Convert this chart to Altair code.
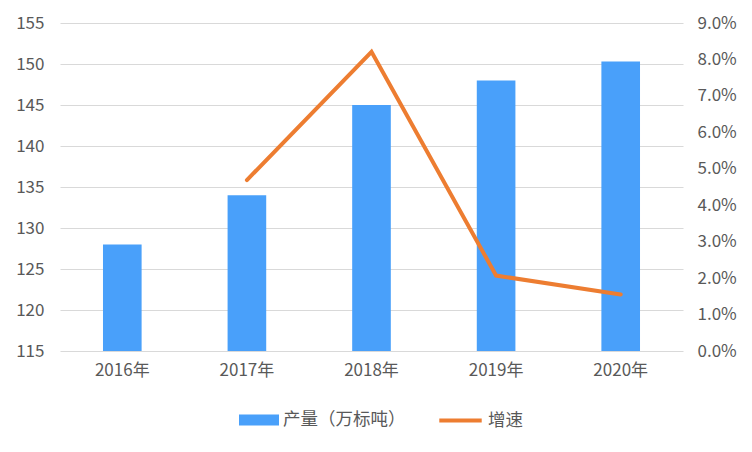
import altair as alt
import pandas as pd

years = ["2016年", "2017年", "2018年", "2019年", "2020年"]
output = [128, 134, 145, 148, 150.3]
growth = [None, 0.0469, 0.0821, 0.0207, 0.0155]

bar_name = "产量（万标吨）"
line_name = "增速"

df = pd.DataFrame({"year": years, "output": output, "growth": growth})
df["bar_series"] = bar_name
df["line_series"] = line_name
df_line = df.dropna(subset=["growth"])

FONT = "Noto Sans CJK SC"
LBL = "#595959"
GRID = "#d9d9d9"

x = alt.X("year:N", sort=years, title=None,
          scale=alt.Scale(paddingInner=0.69, paddingOuter=0.345),
          axis=alt.Axis(labelAngle=0, domain=False, ticks=False, labelPadding=11))

bars = alt.Chart(df).mark_bar(color="#49A0FA").encode(
    x=x,
    y=alt.Y("output:Q", title=None,
            scale=alt.Scale(domain=[115, 155], zero=False, nice=False),
            axis=alt.Axis(values=[115, 120, 125, 130, 135, 140, 145, 150, 155],
                          domain=False, ticks=False, grid=True, gridColor=GRID,
                          labelPadding=16)),
    y2=alt.datum(115),
    color=alt.Color("bar_series:N", title=None,
                    scale=alt.Scale(domain=[bar_name], range=["#49A0FA"]),
                    legend=alt.Legend(orient="none", legendX=179, legendY=377,
                                      symbolType="M-1,-0.28L1,-0.28L1,0.28L-1,0.28Z",
                                      symbolSize=1600, symbolStrokeWidth=0, symbolOpacity=1,
                                      labelFontSize=17.5, labelColor=LBL, labelFont=FONT)),
)

line = alt.Chart(df_line).mark_line(strokeWidth=4, strokeCap="round", strokeJoin="miter").encode(
    x=x,
    y=alt.Y("growth:Q", title=None,
            scale=alt.Scale(domain=[0, 0.09], nice=False),
            axis=alt.Axis(orient="right", format=".1%",
                          values=[0, 0.01, 0.02, 0.03, 0.04, 0.05, 0.06, 0.07, 0.08, 0.09],
                          domain=False, ticks=False, grid=False, labelPadding=14)),
    stroke=alt.Stroke("line_series:N", title=None,
                      scale=alt.Scale(domain=[line_name], range=["#ED7D31"]),
                      legend=alt.Legend(orient="none", legendX=377, legendY=374,
                                        symbolType="stroke", symbolSize=1800,
                                        symbolStrokeWidth=4,
                                        labelFontSize=17.5, labelColor=LBL, labelFont=FONT)),
)

chart = alt.layer(bars, line).resolve_scale(
    y="independent", color="independent", stroke="independent"
).properties(
    width=623, height=328,
    autosize=alt.AutoSizeParams(type="none"),
    padding={"left": 52, "top": 15, "right": 60, "bottom": 90},
    background="white",
).configure_view(stroke=None).configure_axis(
    labelFont=FONT, labelFontSize=17, labelColor=LBL
).configure_legend(
    labelFont=FONT
)

chart.save("out.html", embed_options={"renderer": "svg", "actions": False})
